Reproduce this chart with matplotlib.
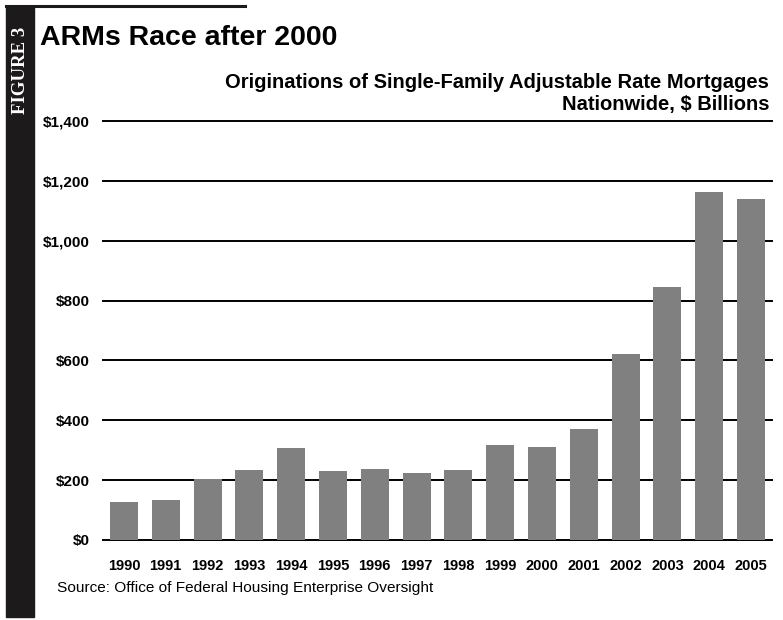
import matplotlib
matplotlib.use('Agg')
import matplotlib.pyplot as plt
from matplotlib.patches import Rectangle
from matplotlib.lines import Line2D
import numpy as np

years = ['1990', '1991', '1992', '1993', '1994', '1995', '1996', '1997',
         '1998', '1999', '2000', '2001', '2002', '2003', '2004', '2005']
arms = [127, 133, 203, 233, 307, 230, 237, 223,
        233, 317, 310, 370, 623, 847, 1163, 1140]
yticks = [0, 200, 400, 600, 800, 1000, 1200, 1400]
ylabels = ['$0', '$200', '$400', '$600', '$800', '$1,000', '$1,200', '$1,400']

plt.rcParams['font.family'] = ['Liberation Sans', 'DejaVu Sans']

W, H = 783, 620
fig = plt.figure(figsize=(W / 100, H / 100), dpi=100)

# dark side band + top rule
fig.patches.append(Rectangle((6 / W, 1 - 617 / H), 28 / W, 611 / H,
                             transform=fig.transFigure, color='#1c1a1b', zorder=0))
fig.lines.append(Line2D([6 / W, 245 / W], [1 - 6 / H, 1 - 6 / H],
                        transform=fig.transFigure, color='#1c1a1b', lw=2.2))
fig.text(20.5 / W, 1 - 70 / H, 'FIGURE 3', rotation=90, color='white',
         family=['Liberation Serif', 'DejaVu Serif'], fontsize=13.5,
         fontweight='semibold', ha='center', va='center')

fig.text(40 / W, 1 - 45 / H, 'ARMs Race after 2000',
         fontsize=20.5, fontweight='bold', ha='left', va='baseline')
fig.text(769 / W, 1 - 88 / H, 'Originations of Single-Family Adjustable Rate Mortgages',
         fontsize=14.5, fontweight='bold', ha='right', va='baseline')
fig.text(769 / W, 1 - 110 / H, 'Nationwide, $ Billions',
         fontsize=14.5, fontweight='bold', ha='right', va='baseline')
fig.text(57 / W, 1 - 592 / H, 'Source: Office of Federal Housing Enterprise Oversight',
         fontsize=11.1, ha='left', va='baseline')

ax = fig.add_axes([103 / W, (H - 540) / H, (772 - 103) / W, 419 / H])
x = np.arange(len(years))
ax.bar(x, arms, width=0.67, color='#808080', zorder=3)
ax.set_xlim(-0.5, len(years) - 0.5)
ax.set_ylim(0, 1400)
ax.set_yticks(yticks)
ax.set_yticklabels(ylabels)
ax.set_xticks(x)
ax.set_xticklabels(years)
for yv in yticks:
    ax.axhline(yv, color='black', lw=1.4, zorder=1, clip_on=False)
for s in ax.spines.values():
    s.set_visible(False)
ax.tick_params(axis='y', length=0, pad=9.5, labelsize=11)
ax.tick_params(axis='x', length=0, pad=13.5, labelsize=10.5)
for lab in ax.get_xticklabels() + ax.get_yticklabels():
    lab.set_fontweight('bold')

fig.savefig('out.png', dpi=100)
